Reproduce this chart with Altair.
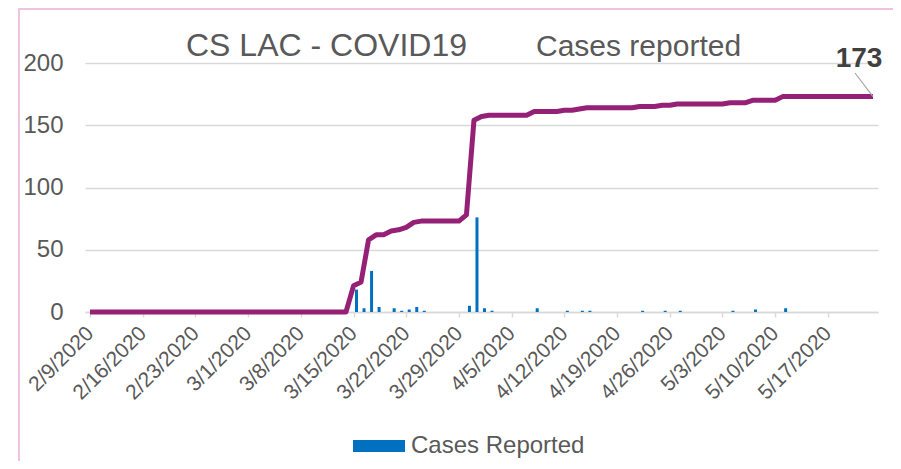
import altair as alt
import pandas as pd

# ---------------- data ----------------
start_date = "2020-02-09"
end_date = "2020-05-23"

# cumulative cases (line), one value per day from 2/9/2020 to 5/23/2020
cumulative = [
    0, 0, 0, 0, 0, 0, 0, 0, 0, 0, 0, 0, 0, 0, 0, 0, 0, 0, 0, 0,
    0, 0, 0, 0, 0, 0, 0, 0, 0, 0, 0, 0, 0, 0, 0,
    21, 24, 58, 62, 62, 65, 66, 68, 72, 73,
    73, 73, 73, 73, 73,
    78, 154, 157,
    158, 158, 158, 158, 158, 158,
    161, 161, 161, 161,
    162, 162,
    163,
    164, 164, 164, 164, 164, 164, 164,
    165, 165, 165,
    166, 166,
    167, 167, 167, 167, 167, 167, 167,
    168, 168, 168,
    170, 170, 170, 170,
    173, 173, 173, 173, 173, 173, 173, 173, 173, 173, 173, 173, 173,
]

# daily cases reported (bars)
bar_dates = [
    "2020-03-15", "2020-03-16", "2020-03-17", "2020-03-18", "2020-03-20",
    "2020-03-21", "2020-03-22", "2020-03-23", "2020-03-24", "2020-03-30",
    "2020-03-31", "2020-04-01", "2020-04-02", "2020-04-08", "2020-04-12",
    "2020-04-14", "2020-04-15", "2020-04-22", "2020-04-25", "2020-04-27",
    "2020-05-04", "2020-05-07", "2020-05-11",
]
bar_values = [18, 3, 33, 4, 3, 1, 2, 4, 1, 5, 76, 3, 1, 3, 1, 1, 1, 1, 1, 1, 1, 2, 3]

tick_dates = [
    "2020-02-09", "2020-02-16", "2020-02-23", "2020-03-01", "2020-03-08",
    "2020-03-15", "2020-03-22", "2020-03-29", "2020-04-05", "2020-04-12",
    "2020-04-19", "2020-04-26", "2020-05-03", "2020-05-10", "2020-05-17",
]
y_ticks = [0, 50, 100, 150, 200]

title_left = "CS LAC - COVID19"
title_right = "Cases reported"
series_name = "Cases Reported"

# ---------------- build tables ----------------
days = pd.date_range(start_date, end_date, freq="D")
line_df = pd.DataFrame({"date": days.strftime("%Y-%m-%d"), "total": cumulative})
bar_df = pd.DataFrame({"date": bar_dates, "cases": bar_values, "series": series_name})
last_df = line_df.tail(1)


def ms(s):
    return int(pd.Timestamp(s, tz="UTC").value // 10**6)


FONT = "Liberation Sans"
GREY = "#595959"

xscale = alt.Scale(type="utc", domain=[ms(start_date), ms(end_date)], nice=False)
yscale = alt.Scale(domain=[0, 200], nice=False)

x_axis = alt.Axis(
    values=[ms(d) for d in tick_dates],
    labelExpr="utcFormat(datum.value, '%-m/%-d/%Y')",
    labelAngle=-45, labelAlign="right", labelBaseline="middle", labelFontSize=21,
    labelColor=GREY, labelFont=FONT, labelPadding=13, labelOverlap=False,
    grid=False, domainColor="#d9d9d9", domainWidth=1.5, tickColor="#d9d9d9",
    tickWidth=1.5, tickSize=5, title=None,
)
y_axis = alt.Axis(
    values=y_ticks, grid=True, gridColor="#d9d9d9", gridWidth=1.5, domain=False,
    ticks=False, labelFontSize=24, labelColor=GREY, labelFont=FONT,
    labelPadding=22, title=None,
)

X = dict(scale=xscale, axis=x_axis)
Y = dict(scale=yscale, axis=y_axis)

bars = alt.Chart(bar_df).mark_bar(width=3, xOffset=3).encode(
    x=alt.X("date:T", **X),
    y=alt.Y("cases:Q", **Y),
    color=alt.Color(
        "series:N",
        scale=alt.Scale(domain=[series_name], range=["#0070c0"]),
        legend=alt.Legend(
            orient="none", legendX=268, legendY=357, title=None,
            symbolType="M-1,-0.23H1V0.23H-1Z", symbolSize=2704,
            symbolStrokeWidth=0, labelFontSize=24, labelColor=GREY,
            labelFont=FONT, labelOffset=6, labelLimit=400, padding=0,
        ),
    ),
)

line = alt.Chart(line_df).mark_line(
    color="#952177", strokeWidth=5, strokeJoin="round", strokeCap="butt"
).encode(
    x=alt.X("date:T", **X),
    y=alt.Y("total:Q", **Y),
)

leader = alt.Chart(last_df).mark_rule(color="#a6a6a6", strokeWidth=1.2).encode(
    x=alt.X("date:T", **X),
    y=alt.Y("total:Q", **Y),
    x2=alt.value(770),
    y2=alt.value(10),
)

end_label = alt.Chart(last_df).mark_text(
    font=FONT, fontSize=28, fontWeight="bold", color="#404040",
    dx=-14, dy=-38, align="center", baseline="middle",
).encode(
    x=alt.X("date:T", **X),
    y=alt.Y("total:Q", **Y),
    text=alt.Text("total:Q"),
)

t1 = alt.Chart(pd.DataFrame({"t": [title_left]})).mark_text(
    font=FONT, fontSize=32, color=GREY, align="left", baseline="alphabetic"
).encode(text="t:N", x=alt.value(101), y=alt.value(-7))

t2 = alt.Chart(pd.DataFrame({"t": [title_right]})).mark_text(
    font=FONT, fontSize=30, color=GREY, align="left", baseline="alphabetic"
).encode(text="t:N", x=alt.value(451), y=alt.value(-7))

frame_left = alt.Chart(pd.DataFrame({"a": [0]})).mark_rule(
    color="#f0c3dd", strokeWidth=2
).encode(x=alt.value(-66), y=alt.value(-55), y2=alt.value(460))

frame_top = alt.Chart(pd.DataFrame({"a": [0]})).mark_rule(
    color="#f0c3dd", strokeWidth=2
).encode(x=alt.value(-67), x2=alt.value(830), y=alt.value(-54))

chart = alt.layer(
    frame_left, frame_top, bars, line, leader, end_label, t1, t2
).properties(
    width=793, height=249,
    autosize=alt.AutoSizeParams(type="none"),
    padding={"left": 77, "top": 55, "right": 15, "bottom": 149},
).configure_view(stroke=None)

chart.save("out.html", embed_options={"renderer": "svg", "actions": False})
